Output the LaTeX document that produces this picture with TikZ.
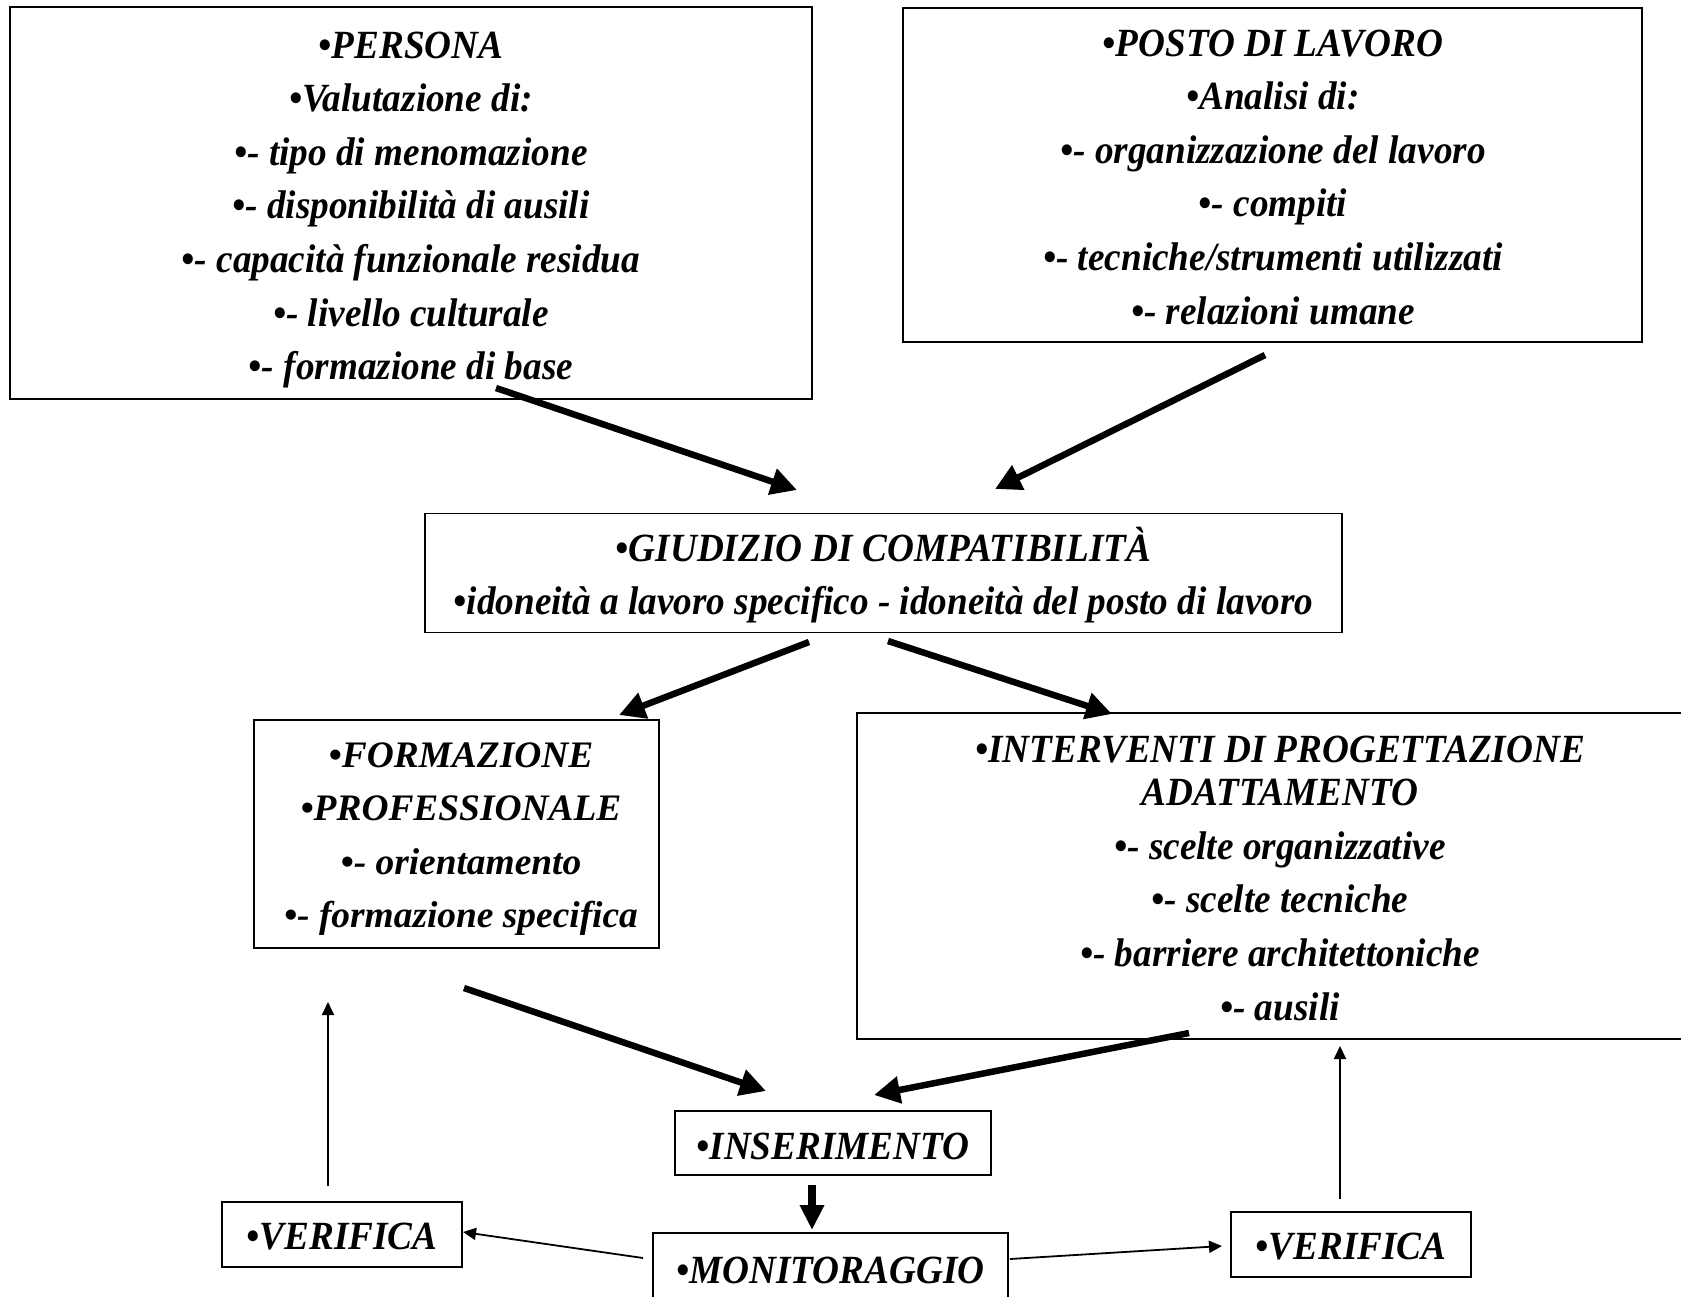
\documentclass[tikz,border=0pt]{standalone}
\usepackage{fontspec}
\setmainfont{Liberation Serif}
\newfontfamily\condfont{Liberation Serif}[FakeStretch=0.93]
\usetikzlibrary{arrows.meta}
\tikzset{
  box/.style={draw=black, line width=1.6pt, fill=white, inner sep=0pt},
  txt/.style={align=center, inner sep=0pt},
  ctext/.style={txt, font=\condfont\bfseries\itshape\fontsize{40}{53.6}\selectfont},
  wtext/.style={txt, font=\bfseries\itshape\fontsize{37.4}{53.6}\selectfont},
  bigarrow/.style={line width=6.5pt, -{Triangle[length=26pt,width=26pt]}},
  downarrow/.style={line width=8pt, -{Triangle[length=25pt,width=23pt]}},
  thinarrow/.style={line width=1.8pt, -{Triangle[length=13pt,width=12pt]}}
}
\begin{document}
\begin{tikzpicture}[x=1pt,y=-1pt]
\useasboundingbox (0,0) rectangle (1681,1296);
\clip (0,0) rectangle (1681,1296);
\fill[white] (0,0) rectangle (1681,1296);

\node[box,minimum width=802pt,minimum height=391.5pt] (persona) at (411,203) {};
\node[ctext] (personaT) at (411,210)
 {•PERSONA\\ •Valutazione di:\\ •- tipo di menomazione\\ •- disponibilità di ausili\\ •- capacità funzionale residua\\ •- livello culturale\\ •- formazione di base};

\node[box,minimum width=739pt,minimum height=334.5pt] (posto) at (1272.5,175) {};
\node[ctext] (postoT) at (1273,177)
 {•POSTO DI LAVORO\\ •Analisi di:\\ •- organizzazione del lavoro\\ •- compiti\\ •- tecniche/strumenti utilizzati\\ •- relazioni umane};

\node[box,minimum width=917pt,minimum height=119pt] (giudizio) at (883.5,573) {};
\node[ctext] (giudizioT) at (883.5,575)
 {•GIUDIZIO DI COMPATIBILITÀ\\ •idoneità a lavoro specifico - idoneità del posto di lavoro};

\node[box,minimum width=405pt,minimum height=228pt] (formazione) at (456.5,834) {};
\node[wtext] (formazioneT) at (461,839)
 {•FORMAZIONE\\ •PROFESSIONALE\\ •- orientamento\\ •- formazione specifica};

\node[box,minimum width=860pt,minimum height=326pt] (interventi) at (1287,876) {};
\node[ctext] (interventiT) at (1280,878)
 {•INTERVENTI DI PROGETTAZIONE\\[-10pt] ADATTAMENTO\\ •- scelte organizzative\\ •- scelte tecniche\\ •- barriere architettoniche\\ •- ausili};

\node[box,minimum width=316pt,minimum height=64pt] (inserimento) at (833,1143) {};
\node[ctext] (inserimentoT) at (833,1146) {•INSERIMENTO};
\node[box,minimum width=355pt,minimum height=72pt] (monitoraggio) at (830.5,1269) {};
\node[ctext] (monitoraggioT) at (830.5,1270) {•MONITORAGGIO};
\node[box,minimum width=240pt,minimum height=65pt] (verificaL) at (342,1234.5) {};
\node[ctext] (verificaLT) at (342,1237) {•VERIFICA};
\node[box,minimum width=240pt,minimum height=65pt] (verificaR) at (1351,1244.5) {};
\node[ctext] (verificaRT) at (1351,1247) {•VERIFICA};

% arrow end points
\coordinate (p1s) at (496,388);  \coordinate (p1e) at (797,490);
\coordinate (p2s) at (1265,355); \coordinate (p2e) at (995,489);
\coordinate (g1s) at (809,642);  \coordinate (g1e) at (619,715);
\coordinate (g2s) at (888,641);  \coordinate (g2e) at (1112,714);
\coordinate (f1s) at (464,988);  \coordinate (f1e) at (766,1091);
\coordinate (i1s) at (1189,1033); \coordinate (i1e) at (874,1095);
\coordinate (d1s) at (812,1185); \coordinate (d1e) at (812,1230);
\coordinate (m1s) at (643,1258); \coordinate (m1e) at (463,1232);
\coordinate (m2s) at (1010,1259); \coordinate (m2e) at (1222,1246);
\coordinate (vls) at (328,1186); \coordinate (vle) at (328,1002);
\coordinate (vrs) at (1340,1199); \coordinate (vre) at (1340,1046);

\draw[bigarrow] (p1s) -- (p1e);
\draw[bigarrow] (p2s) -- (p2e);
\draw[bigarrow] (g1s) -- (g1e);
\draw[bigarrow] (g2s) -- (g2e);
\draw[bigarrow] (f1s) -- (f1e);
\draw[bigarrow] (i1s) -- (i1e);
\draw[downarrow] (d1s) -- (d1e);
\draw[thinarrow] (m1s) -- (m1e);
\draw[thinarrow] (m2s) -- (m2e);
\draw[thinarrow] (vls) -- (vle);
\draw[thinarrow] (vrs) -- (vre);
\end{tikzpicture}
\end{document}
